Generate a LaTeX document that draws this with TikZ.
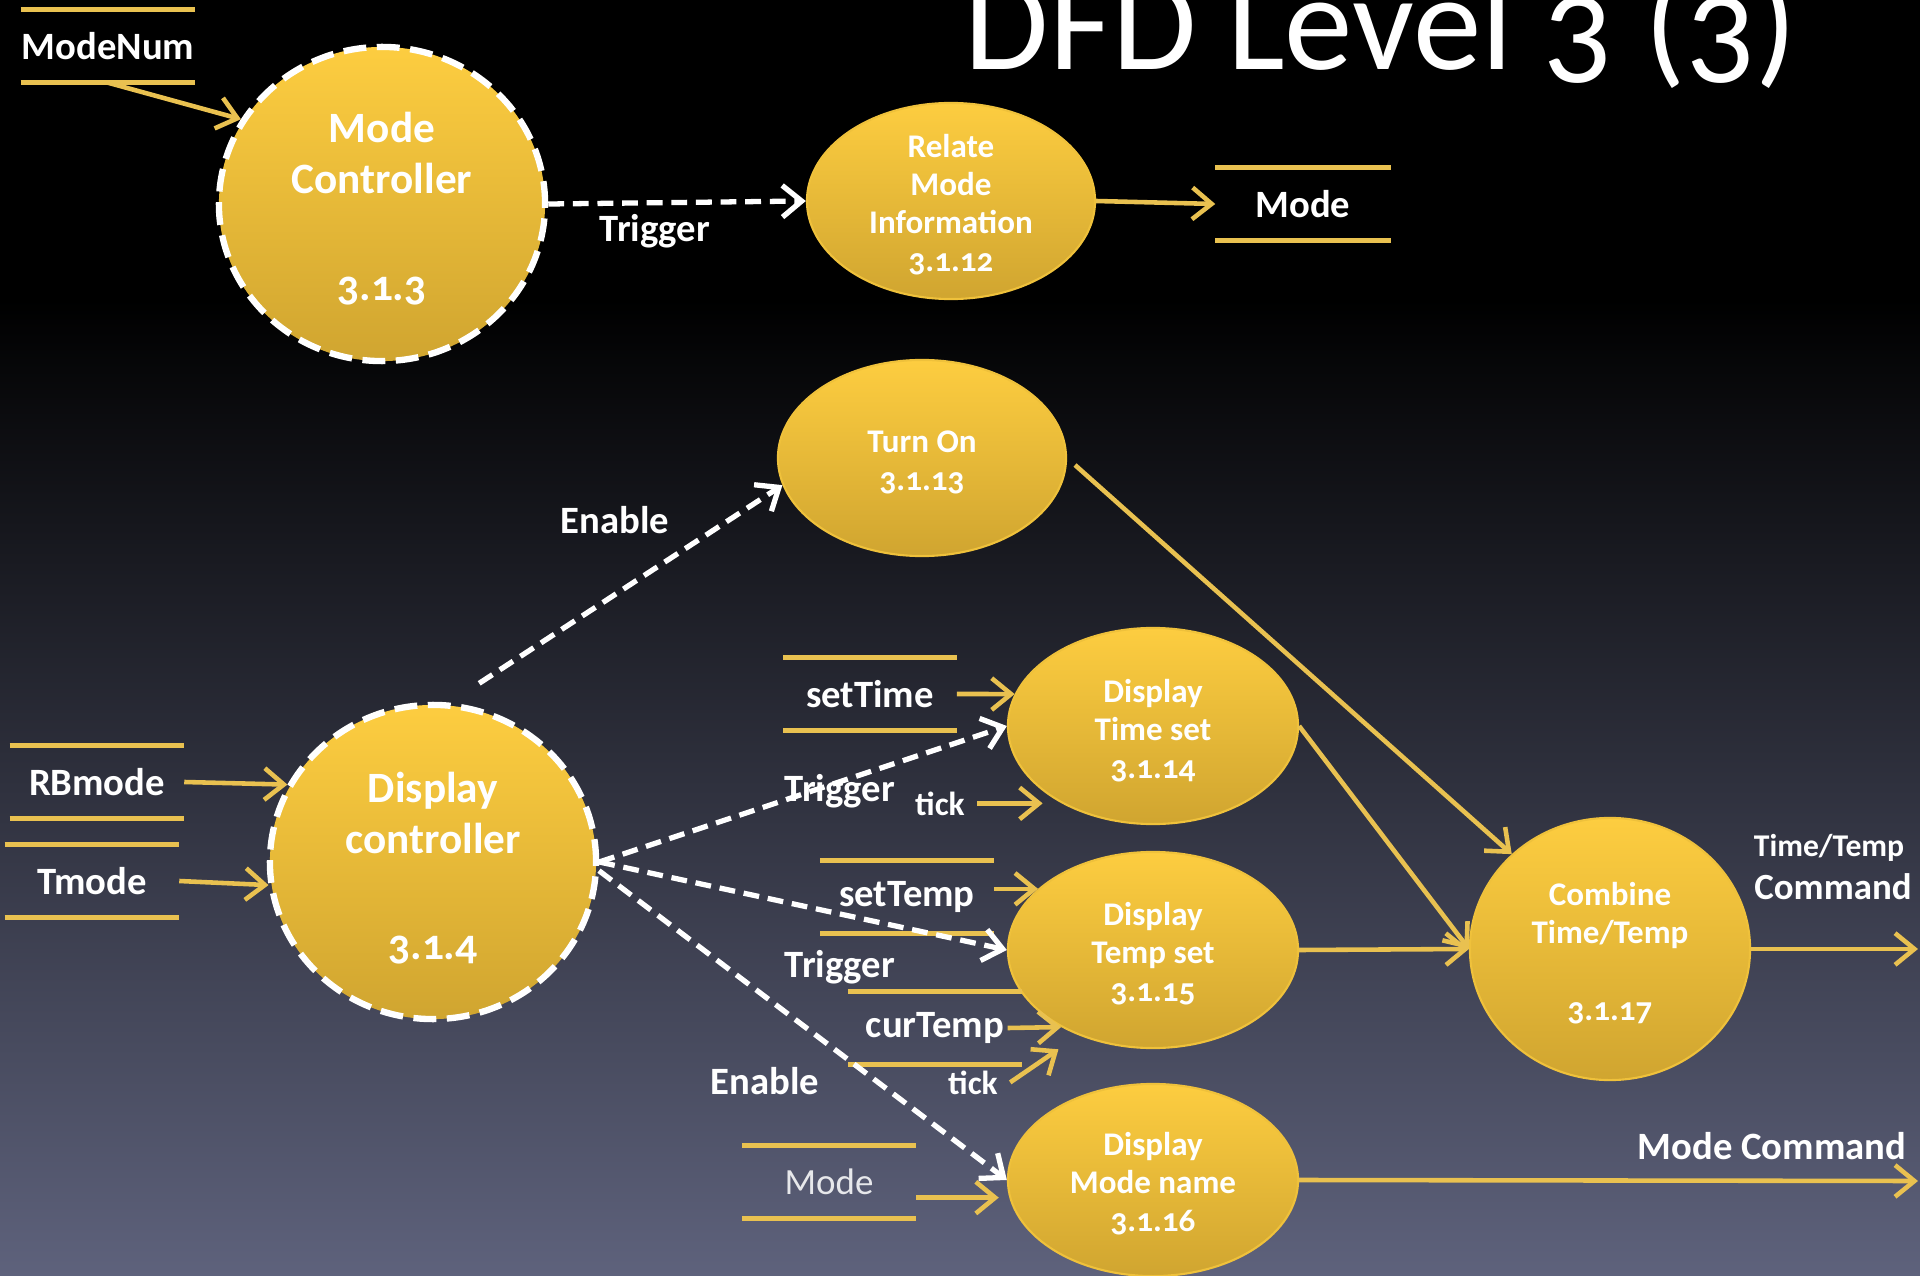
\documentclass[tikz,border=0pt]{standalone}
\usepackage{fontspec}
\setmainfont{Carlito}[Numbers=OldStyle]
\usetikzlibrary{shapes.geometric,arrows.meta}
\definecolor{proctop}{RGB}{253,205,64}
\definecolor{procbot}{RGB}{208,165,48}
\definecolor{flowy}{RGB}{233,193,80}
\definecolor{bgmid}{RGB}{44,42,74}
\definecolor{bgbot}{RGB}{94,98,124}
\begin{document}
\begin{tikzpicture}
        [x=0.01cm, y=-0.01cm,
        proc/.style={ellipse, inner sep=0pt, top color=proctop, bottom color=procbot,
            draw=proctop!70!procbot, line width=0.6pt},
        ctrl/.style={proc, draw=white, line width=1.8pt, dash pattern=on 6.5pt off 3pt,
            minimum width=3.26cm, minimum height=3.14cm},
        small/.style={proc, minimum width=2.9cm, minimum height=1.96cm},
        bigtext/.style={text=white, align=center, font=\bfseries\fontsize{12.3}{14.5}\selectfont},
        proctext/.style={text=white, align=center, font=\bfseries\fontsize{9.4}{10.8}\selectfont},
        storeline/.style={draw=flowy, line width=1.4pt},
        store/.style={text=white, font=\bfseries\fontsize{11}{13}\selectfont,
            minimum width=1.73cm, minimum height=0.72cm, inner sep=0pt,
            append after command={(\tikzlastnode.north west) edge[storeline] (\tikzlastnode.north east)
                (\tikzlastnode.south west) edge[storeline] (\tikzlastnode.south east)}},
        lbl/.style={text=white, font=\bfseries\fontsize{11}{13}\selectfont, anchor=base},
        ticklbl/.style={lbl, font=\bfseries\fontsize{9.5}{11}\selectfont},
        flow/.style={draw=flowy, line width=1.3pt, -{Straight Barb[length=5.5pt,width=9pt]}},
        trig/.style={draw=white, line width=1.5pt, dash pattern=on 4.5pt off 2.5pt,
            -{Straight Barb[length=5.5pt,width=9pt]}}]
        % background
        \fill[black] (0,0) rectangle (1920,300);
        \shade[top color=black, middle color=bgmid, bottom color=bgbot]
            (0,299) rectangle (1920,1276);
        \useasboundingbox (0,0) rectangle (1920,1276);
        \node[text=white, font=\fontsize{39}{40}\selectfont, anchor=base] (title)
            at (1381,70) {DFD Level 3 (3)};

        % processes
        \node[ctrl] (mctrl) at (382,204) {};
        \node[bigtext] (mctrl-t) at (382,209) {Mode\\Controller\\[16pt]3.1.3};
        \node[small, minimum width=2.88cm] (relate) at (951,201) {};
        \node[proctext] (relate-t) at (951,205) {Relate\\Mode\\Information\\3.1.12};
        \node[small, minimum width=2.88cm] (turnon) at (922,458) {};
        \node[proctext] (turnon-t) at (922,462) {Turn On\\3.1.13};
        \node[small] (timeset) at (1153,726) {};
        \node[proctext] (timeset-t) at (1153,731) {Display\\Time set\\3.1.14};
        \node[small] (tempset) at (1153,950) {};
        \node[proctext] (tempset-t) at (1153,954) {Display\\Temp set\\3.1.15};
        \node[small, minimum height=1.92cm] (modename) at (1153,1180) {};
        \node[proctext] (modename-t) at (1153,1184) {Display\\Mode name\\3.1.16};
        \node[proc, minimum width=2.8cm, minimum height=2.62cm] (combine) at (1610,949) {};
        \node[proctext] (combine-t) at (1610,953) {Combine\\Time/Temp\\[11pt]3.1.17};
        \node[ctrl] (dctrl) at (433,862) {};
        \node[bigtext] (dctrl-t) at (433,868) {Display\\controller\\[15.5pt]3.1.4};

        % data stores
        \node[store] (modenum) at (108,46) {ModeNum};
        \node[store, minimum width=1.74cm] (modeout) at (1303,204) {Mode};
        \node[store] (rbmode) at (97,782) {RBmode};
        \node[store] (tmode) at (92,881) {Tmode};
        \node[store, minimum width=1.72cm] (settime) at (870,694) {setTime};
        \node[store] (settemp) at (907,897) {setTemp};
        \node[store, minimum width=1.72cm, minimum height=0.71cm] (curtemp) at (935,1028) {curTemp};
        \node[store, font=\fontsize{10.5}{12}\selectfont, text=white!85!bgbot] (modein)
            at (829,1182) {Mode};

        % flow labels
        \node[lbl] (trig1) at (655,242) {Trigger};
        \node[lbl] (enab1) at (615,534) {Enable};
        \node[lbl] (trig2) at (840,801) {Trigger};
        \node[lbl] (trig3) at (840,977) {Trigger};
        \node[lbl] (enab2) at (765,1094) {Enable};
        \node[ticklbl] (tick1) at (940,815) {tick};
        \node[ticklbl] (tick2) at (973,1094) {tick};
        \node[lbl, font=\bfseries\fontsize{9}{11}\selectfont] (ttlbl) at (1829,856) {Time/Temp};
        \node[lbl, font=\bfseries\fontsize{10.5}{12}\selectfont] (cmdlbl) at (1833,899) {Command};
        \node[lbl] (mclbl) at (1772,1159) {Mode Command};

        % flows
        \draw[flow] (modenum.south) -- (mctrl.149);
        \draw[trig] (mctrl.east) -- (relate.west);
        \draw[flow] (relate.east) -- (modeout.west);
        \draw[flow] (rbmode.east) -- (dctrl.152);
        \draw[flow] (tmode.east) -- (dctrl.188);
        \draw[trig, shorten <=10pt] (dctrl.84) -- (turnon.191);
        \draw[trig] (dctrl.east) -- (timeset.west);
        \draw[trig] (dctrl.east) -- (tempset.west);
        \draw[trig] (dctrl.-3) -- (modename.west);
        \draw[flow] (settime.east) -- (timeset.167);
        \draw[flow, shorten >=2pt] (tick1.east) -- (tick1.east -| timeset.south west);
        \draw[flow] (settemp.east |- tempset.152) -- (tempset.152);
        \draw[flow] ([xshift=-4pt]curtemp.east) -- (tempset.220);
        \draw[flow, shorten >=7pt] (tick2.east) -- (tempset.229);
        \draw[flow, shorten >=3pt] (modein.east |- modename.187) -- (modename.187);
        \draw[flow, shorten <=3pt] (turnon.east) -- (combine.136);
        \draw[flow] (timeset.east) -- (combine.west);
        \draw[flow] (tempset.east) -- (combine.west);
        \coordinate (ttout) at (1918,949);
        \coordinate (mcout) at (1918,1181);
        \draw[flow] (combine.east) -- (ttout);
        \draw[flow] (modename.east) -- (mcout);
\end{tikzpicture}
\end{document}
